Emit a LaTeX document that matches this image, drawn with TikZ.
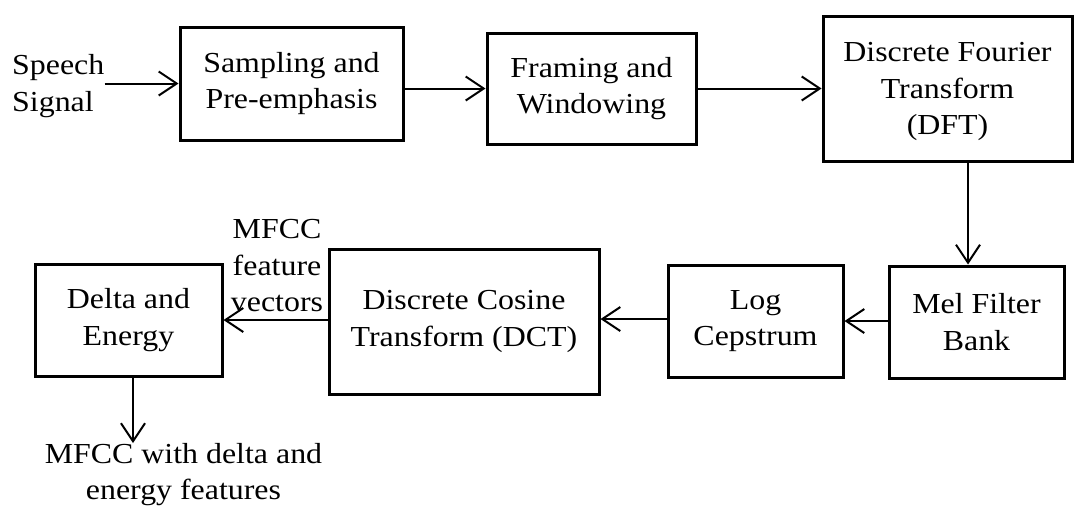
\documentclass[tikz,border=0pt]{standalone}
\usepackage{fontspec}
\setmainfont{Liberation Serif}[FakeStretch=1.1]
\usetikzlibrary{arrows.meta}
\begin{document}
\begin{tikzpicture}[x=1pt,y=-1pt,
  every node/.style={font=\fontsize{29}{36.5}\selectfont, inner sep=0pt, align=center},
  blk/.style={draw, line width=3pt, minimum width=#1},
  arr/.style={line width=2pt, -{Straight Barb[length=18pt,width=24pt,line width=2pt]}},
  lbl/.style={}]
\useasboundingbox (0,0) rectangle (1075,507);
% top row
\node[lbl, align=left, anchor=west] (speech) at (12,86) {Speech\\Signal};
\node[blk=223pt, minimum height=113pt] (samp) at (291.5,83.5) {Sampling and\\Pre-emphasis};
\node[blk=209pt, minimum height=111pt] (fram) at (591.5,88.5) {Framing and\\Windowing};
\node[blk=249pt, minimum height=145pt, text depth=-2pt] (dft) at (947.5,88.5) {Discrete Fourier\\Transform\\(DFT)};
% bottom row
\node[blk=175pt, minimum height=112pt] (mel) at (976.5,322) {Mel Filter\\Bank};
\node[blk=175pt, minimum height=112pt] (log) at (755.5,321) {Log\\Cepstrum};
\node[blk=270pt, minimum height=145pt] (dct) at (464,321.5) {Discrete Cosine\\Transform (DCT)};
\node[blk=187pt, minimum height=112pt] (delta) at (128.5,320) {Delta and\\Energy};
\node[lbl] (mfcc) at (277,266) {MFCC\\feature\\vectors};
\node[lbl, anchor=north] (out) at (183.5,443) {MFCC with delta and\\energy features};
% connectors
\draw[arr] (speech.east |- samp.west) -- (samp.west);
\draw[arr] (samp.east |- fram.west) -- (fram.west);
\draw[arr] (fram.east) -- (fram.east -| dft.west);
\draw[arr] ([xshift=20.5pt]dft.south) -- ([xshift=20.5pt]dft.south |- mel.north);
\draw[arr] ([yshift=1pt]mel.west) -- ([yshift=1pt]mel.west -| log.east);
\draw[arr] ([yshift=1.5pt]dct.west) -- ([yshift=1.5pt]dct.west -| delta.east);
\draw[arr] ([yshift=2pt]log.west) -- ([yshift=2pt]log.west -| dct.east);
\draw[arr] ([xshift=4.5pt]delta.south) -- ([xshift=4.5pt]delta.south |- out.north);
\end{tikzpicture}
\end{document}
